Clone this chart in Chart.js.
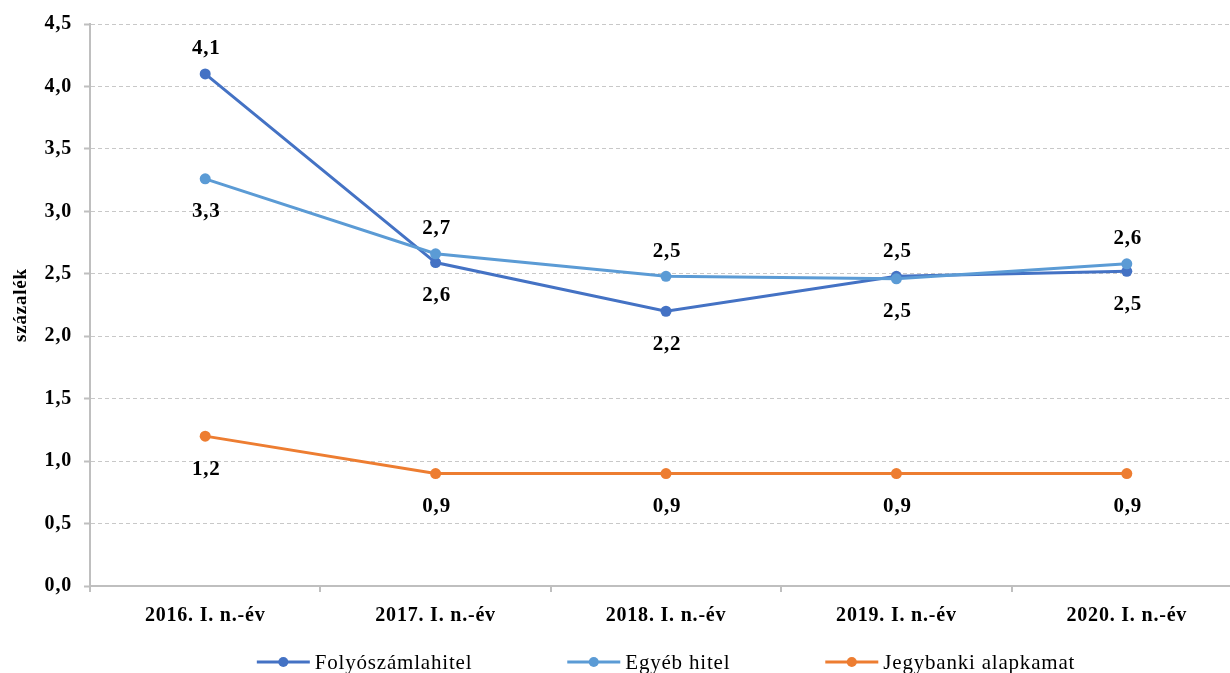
<!DOCTYPE html>
<html lang="hu">
<head>
<meta charset="utf-8">
<title>Kamatok</title>
<script src="https://cdn.jsdelivr.net/npm/chart.js@4.4.0/dist/chart.umd.min.js"></script>
<style>
  html, body { margin: 0; padding: 0; overflow: hidden; background: #fff; }
  #keret { width: 1250px; height: 673px; }
</style>
</head>
<body>
<div id="keret"><canvas id="grafikon" width="1250" height="673"></canvas></div>
<script>
// adatok
const kategoriak = ["2016. I. n.-év", "2017. I. n.-év", "2018. I. n.-év", "2019. I. n.-év", "2020. I. n.-év"];
const folyoszamla = [4.1, 2.59, 2.2, 2.48, 2.52];
const egyebHitel = [3.26, 2.66, 2.48, 2.46, 2.58];
const alapkamat = [1.2, 0.9, 0.9, 0.9, 0.9];
const yMin = 0;
const yMax = 4.5;
const yLepes = 0.5;

const betu = "'Liberation Serif', 'Times New Roman', serif";
const koz = "0.8px";
const szam = v => v.toFixed(1).replace(".", ",");

// kicsit szélesebb betűköz, mint alapból
const betukoz = {
    id: "betukoz",
    beforeLayout(chart) { chart.ctx.letterSpacing = koz; },
    beforeDraw(chart) { chart.ctx.letterSpacing = koz; }
};

// adatcímkék a pontok fölé / alá
const adatcimkek = {
    id: "adatcimkek",
    afterDatasetsDraw(chart) {
        const ctx = chart.ctx;
        ctx.save();
        ctx.letterSpacing = koz;
        ctx.font = "bold 21px " + betu;
        ctx.fillStyle = "#000";
        ctx.textAlign = "center";
        ctx.textBaseline = "middle";
        chart.data.datasets.forEach((ds, i) => {
            chart.getDatasetMeta(i).data.forEach((pt, j) => {
                const fent = ds.cimkeHely[j] === "fent";
                ctx.fillText(szam(ds.data[j]), pt.x + 1, pt.y + (fent ? -25 : 33));
            });
        });
        ctx.restore();
    }
};

// jelmagyarázat: vonal + pont + szöveg
const jelmagyarazat = {
    id: "jelmagyarazat",
    afterDraw(chart) {
        const ctx = chart.ctx;
        const area = chart.chartArea;
        const jel = 53, res = 5, tav = 95;
        ctx.save();
        ctx.letterSpacing = koz;
        ctx.font = "21px " + betu;
        const dsek = chart.data.datasets;
        const szel = dsek.map(ds => jel + res + ctx.measureText(ds.label).width);
        const ossz = szel.reduce((a, b) => a + b, 0) + tav * (dsek.length - 1);
        let x = (area.left + area.right) / 2 - ossz / 2;
        const y = chart.height - 11;
        dsek.forEach((ds, i) => {
            ctx.strokeStyle = ds.borderColor;
            ctx.lineWidth = 3;
            ctx.beginPath();
            ctx.moveTo(x, y);
            ctx.lineTo(x + jel, y);
            ctx.stroke();
            ctx.fillStyle = ds.borderColor;
            ctx.beginPath();
            ctx.arc(x + jel / 2, y, 5, 0, Math.PI * 2);
            ctx.fill();
            ctx.fillStyle = "#000";
            ctx.textBaseline = "middle";
            ctx.fillText(ds.label, x + jel + res, y + 1);
            x += szel[i] + tav;
        });
        ctx.restore();
    }
};

const vonal = (nev, adat, szin, sorrend, hely) => ({
    label: nev,
    data: adat,
    borderColor: szin,
    backgroundColor: szin,
    pointBackgroundColor: szin,
    pointBorderWidth: 0,
    pointRadius: 5.5,
    borderWidth: 3,
    tension: 0,
    order: sorrend,
    cimkeHely: hely
});

const ctx = document.getElementById("grafikon").getContext("2d");
const grafikon = new Chart(ctx, {
    type: "line",
    data: {
        labels: kategoriak,
        datasets: [
            vonal("Folyószámlahitel", folyoszamla, "#4472C4", 2, ["fent", "lent", "lent", "fent", "lent"]),
            vonal("Egyéb hitel", egyebHitel, "#5B9BD5", 1, ["lent", "fent", "fent", "lent", "fent"]),
            vonal("Jegybanki alapkamat", alapkamat, "#ED7D31", 3, ["lent", "lent", "lent", "lent", "lent"])
        ]
    },
    options: {
        responsive: false,
        animation: false,
        layout: { padding: { top: 23, right: 8, bottom: 45, left: 0 } },
        plugins: {
            legend: { display: false },
            tooltip: { enabled: false }
        },
        scales: {
            x: {
                offset: true,
                grid: { offset: true, drawOnChartArea: false, tickLength: 6, color: "#bfbfbf", lineWidth: 2 },
                border: { color: "#bfbfbf", width: 2 },
                ticks: { color: "#000", padding: 12, font: { family: betu, size: 20, weight: "bold" } },
                afterFit(s) { s.height = 42; }
            },
            y: {
                min: yMin,
                max: yMax,
                ticks: {
                    stepSize: yLepes,
                    color: "#000",
                    padding: 12,
                    font: { family: betu, size: 20, weight: "bold" },
                    callback: v => szam(v)
                },
                grid: { color: "#c8c8c8", lineWidth: 1, tickLength: 6, tickColor: "#bfbfbf", tickWidth: 2, tickBorderDash: [] },
                border: { color: "#bfbfbf", width: 2, dash: [4, 3] },
                title: {
                    display: true,
                    text: "százalék",
                    color: "#000",
                    padding: { top: 10, bottom: 0 },
                    font: { family: betu, size: 19, weight: "bold" }
                },
                afterFit(s) { s.width = 90; }
            }
        }
    },
    plugins: [betukoz, adatcimkek, jelmagyarazat]
});
</script>
</body>
</html>
